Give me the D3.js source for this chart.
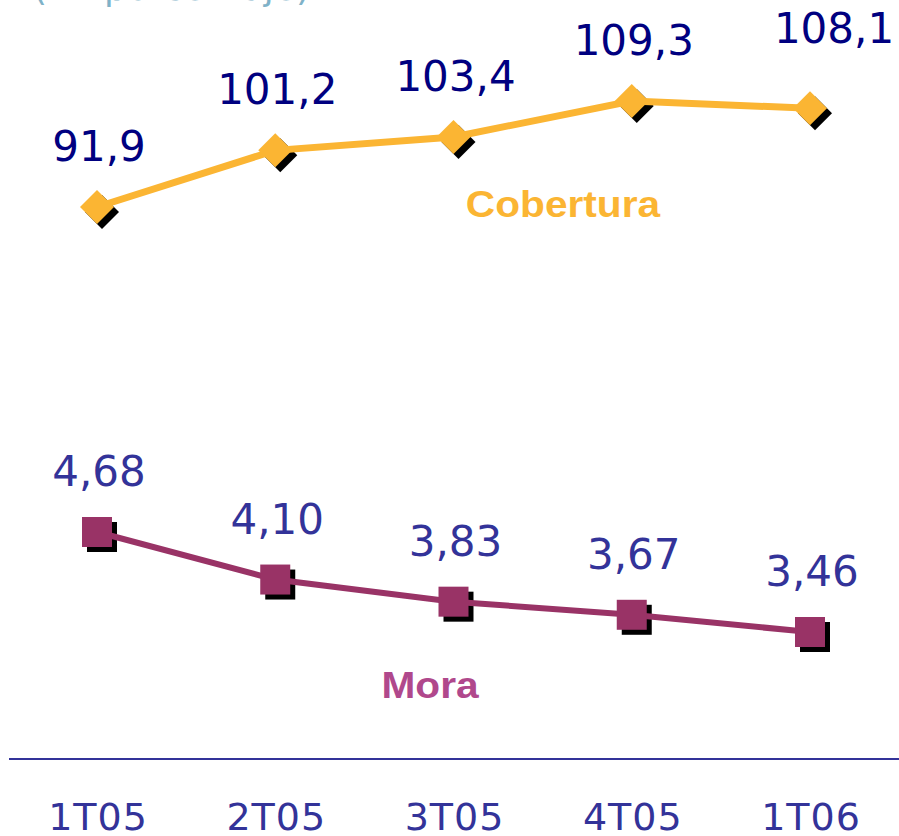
<!DOCTYPE html>
<html>
<head>
<meta charset="utf-8">
<script src="https://cdn.jsdelivr.net/npm/d3@7/dist/d3.min.js"></script>
<style>
  html, body { margin: 0; padding: 0; background: #ffffff; }
  svg { display: block; }
</style>
</head>
<body>
<svg id="chart" width="899" height="836"></svg>
<script>
// Quarters shown on the axis
const quarters = ["1T05", "2T05", "3T05", "4T05", "1T06"];
// Coverage ratio (%)
const cobertura = [91.9, 101.2, 103.4, 109.3, 108.1];
// Non-performing loan ratio (%)
const mora = [4.68, 4.10, 3.83, 3.67, 3.46];

const fmt1 = d => d.toFixed(1).replace(".", ",");
const fmt2 = d => d.toFixed(2).replace(".", ",");

const svg = d3.select("#chart");

const x = d3.scalePoint().domain(quarters).range([97, 810]);
// each series has its own vertical scale
const yCob = d3.scaleLinear().domain([91.9, 109.3]).range([207, 101]);
const yMora = d3.scaleLinear().domain([3.46, 4.68]).range([632, 532]);

// subtitle, partly cut off at the top edge
svg.append("text")
  .attr("x", 33).attr("y", 0)
  .attr("font-family", "DejaVu Sans, Verdana, sans-serif")
  .attr("font-size", 36)
  .attr("fill", "#7fb2c8")
  .text("(En porcentaje)");

// baseline
svg.append("line")
  .attr("x1", 9).attr("x2", 899)
  .attr("y1", 759).attr("y2", 759)
  .attr("stroke", "#333399").attr("stroke-width", 2.2);

// category labels
svg.append("g").selectAll("text")
  .data(quarters).join("text")
  .attr("x", d => x(d) + 1)
  .attr("y", 830)
  .attr("text-anchor", "middle")
  .attr("font-family", "DejaVu Sans, Verdana, sans-serif")
  .attr("font-size", 38)
  .attr("letter-spacing", 1)
  .attr("fill", "#333399")
  .text(d => d);

function drawSeries(values, y, opts) {
  const pts = values.map((v, i) => [x(quarters[i]), y(v), v]);
  const g = svg.append("g");
  const r = opts.half;
  const shape = opts.shape === "diamond"
    ? ([px, py]) => `M${px},${py - r}L${px + r},${py}L${px},${py + r}L${px - r},${py}Z`
    : ([px, py]) => `M${px - r},${py - r}H${px + r}V${py + r}H${px - r}Z`;

  // drop shadows
  g.selectAll("path.shadow").data(pts).join("path")
    .attr("class", "shadow")
    .attr("d", p => shape([p[0] + opts.sh, p[1] + opts.sh]))
    .attr("fill", "#000");

  // connecting line
  g.append("path")
    .datum(pts)
    .attr("d", d3.line().x(p => p[0]).y(p => p[1]))
    .attr("fill", "none")
    .attr("stroke", opts.color)
    .attr("stroke-width", opts.width);

  // markers
  g.selectAll("path.mark").data(pts).join("path")
    .attr("class", "mark")
    .attr("d", p => shape(p))
    .attr("fill", opts.color);

  // value labels
  g.selectAll("text").data(pts).join("text")
    .attr("x", (p, i) => p[0] + 2 + (i === pts.length - 1 ? opts.lastDx : 0))
    .attr("y", (p, i) => p[1] - 46 - (i === pts.length - 1 ? opts.lastDy : 0))
    .attr("text-anchor", "middle")
    .attr("font-family", "DejaVu Sans, Verdana, sans-serif")
    .attr("font-size", 42)
    .attr("fill", opts.labelColor)
    .text(p => opts.fmt(p[2]));
}

drawSeries(cobertura, yCob, {
  shape: "diamond", half: 17, sh: 5, color: "#fbb533", width: 7,
  labelColor: "#000080", fmt: fmt1, lastDx: 22, lastDy: 19
});

drawSeries(mora, yMora, {
  shape: "square", half: 15, sh: 5, color: "#993366", width: 6,
  labelColor: "#333399", fmt: fmt2, lastDx: 0, lastDy: 0
});

// series names
function seriesName(txt, cx, by, color) {
  svg.append("text")
    .attr("transform", `translate(${cx},${by}) scale(1.13,1)`)
    .attr("text-anchor", "middle")
    .attr("font-family", "Liberation Sans, Arial, sans-serif")
    .attr("font-weight", "bold")
    .attr("font-size", 36)
    .attr("fill", color)
    .text(txt);
}
seriesName("Cobertura", 563, 217, "#fbb533");
seriesName("Mora", 430, 698, "#b0488c");
</script>
</body>
</html>
